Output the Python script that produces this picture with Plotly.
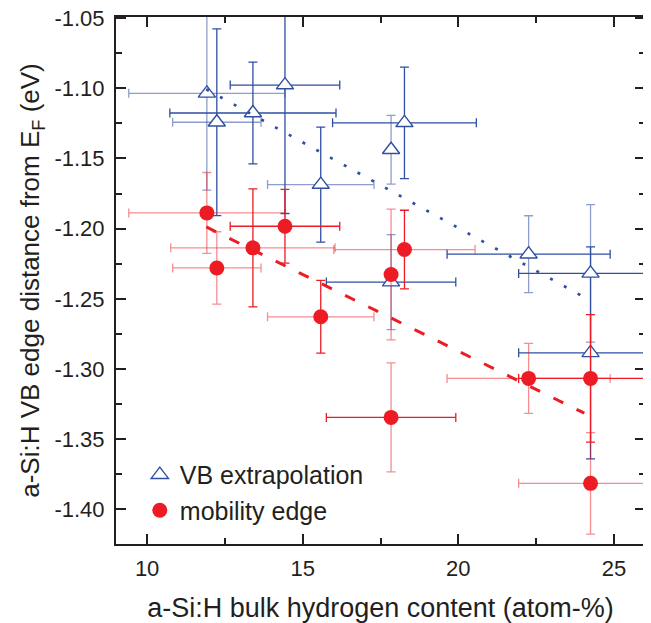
import plotly.graph_objects as go

# ---------------- data ----------------
vb_x = [11.92, 12.24, 13.40, 14.43, 15.58, 17.84, 18.27, 22.26, 24.25, 24.25, 17.84]
vb_y = [-1.1036, -1.1242, -1.1176, -1.0977, -1.1686, -1.1438, -1.1246, -1.2182, -1.2319, -1.2885, -1.2381]
vb_xerr = [2.51, 1.42, 2.67, 1.76, 1.71, 0.0, 2.31, 2.62, 2.31, 2.31, 2.08]
vb_yerr = [0.069, 0.0665, 0.0362, 0.0915, 0.041, 0.0245, 0.0397, 0.0274, 0.049, 0.0755, 0.0338]

me_x = [11.92, 12.24, 13.40, 14.43, 15.58, 17.84, 18.27, 17.84, 22.26, 24.25, 24.25]
me_y = [-1.1888, -1.228, -1.2137, -1.1983, -1.2628, -1.2327, -1.2149, -1.3345, -1.3067, -1.3067, -1.3815]
me_xerr = [2.51, 1.42, 2.64, 1.76, 1.71, 0.0, 2.27, 2.08, 2.62, 2.31, 2.31]
me_yerr = [0.0288, 0.0258, 0.0421, 0.0263, 0.0259, 0.0466, 0.028, 0.0388, 0.0249, 0.0454, 0.0362]

fit_x = [11.9, 24.05]
vb_fit_y = [-1.1007, -1.2489]
me_fit_y = [-1.1988, -1.3315]

x_tick_vals = [10, 15, 20, 25]
x_tick_labels = ["10", "15", "20", "25"]
y_tick_vals = [-1.40, -1.35, -1.30, -1.25, -1.20, -1.15, -1.10, -1.05]
y_tick_labels = ["-1.40", "-1.35", "-1.30", "-1.25", "-1.20", "-1.15", "-1.10", "-1.05"]

# ---------------- styles ----------------
vb_xbar_light = [1, 1, 0, 0, 1, 0, 0, 0, 0, 0, 0]
vb_ybar_light = [1, 0, 0, 0, 0, 1, 0, 1, 1, 0, 1]
me_xbar_light = [1, 1, 1, 0, 1, 0, 1, 0, 1, 0, 1]
me_ybar_light = [1, 1, 0, 0, 0, 1, 0, 1, 1, 0, 1]

BLUE = "#2F4FA2"
BLUE_L = "rgba(47,79,162,0.55)"
RED = "#ED1C24"
RED_L = "rgba(237,28,36,0.5)"
INK = "#231F20"
FONT = "Liberation Sans, Arial, sans-serif"

fig = go.Figure()


def add_bars(xs, ys, xe, ye, xl, yl, dark, light):
    for i in range(len(xs)):
        ex = dict(type="data", array=[xe[i]], color=light if xl[i] else dark,
                  thickness=1.3, width=4.5, visible=xe[i] > 0)
        ey = dict(type="data", array=[ye[i]], color=light if yl[i] else dark,
                  thickness=1.3, width=4.5, visible=ye[i] > 0)
        fig.add_trace(go.Scatter(x=[xs[i]], y=[ys[i]], mode="markers",
                                 marker=dict(size=1, opacity=0),
                                 error_x=ex, error_y=ey,
                                 showlegend=False, hoverinfo="skip"))


add_bars(vb_x, vb_y, vb_xerr, vb_yerr, vb_xbar_light, vb_ybar_light, BLUE, BLUE_L)
fig.add_trace(go.Scatter(x=vb_x, y=vb_y, mode="markers", name="VB extrapolation",
                         marker=dict(symbol="triangle-up", size=15, color="white",
                                     line=dict(color=BLUE, width=1.4))))

add_bars(me_x, me_y, me_xerr, me_yerr, me_xbar_light, me_ybar_light, RED, RED_L)
fig.add_trace(go.Scatter(x=me_x, y=me_y, mode="markers", name="mobility edge",
                         marker=dict(symbol="circle", size=15, color=RED,
                                     line=dict(width=0))))

fig.add_trace(go.Scatter(x=fit_x, y=vb_fit_y, mode="lines", showlegend=False,
                         line=dict(color=BLUE, width=2.7, dash="3px,12.7px")))
fig.add_trace(go.Scatter(x=fit_x, y=me_fit_y, mode="lines", showlegend=False,
                         line=dict(color=RED, width=3, dash="11px,14.8px")))

axis_common = dict(showline=True, linecolor=INK, linewidth=2, mirror="allticks",
                   ticks="inside", ticklen=10, tickwidth=2, tickcolor=INK,
                   showgrid=False, zeroline=False, automargin=False,
                   ticklabeloverflow="allow",
                   tickfont=dict(family=FONT, size=22, color=INK))

fig.update_xaxes(range=[9, 26], tickvals=x_tick_vals, ticktext=x_tick_labels,
                 ticklabelstandoff=4,
                 minor=dict(ticks="inside", ticklen=6, tickwidth=1.6, tickcolor=INK,
                            tickvals=[12.5, 17.5, 22.5]),
                 title=dict(text="a-Si:H bulk hydrogen content (atom-%)",
                            font=dict(family=FONT, size=27, color=INK), standoff=18),
                 **axis_common)
fig.update_yaxes(range=[-1.4247, -1.0492], tickvals=y_tick_vals, ticktext=y_tick_labels,
                 ticklabelstandoff=5,
                 minor=dict(ticks="inside", ticklen=6, tickwidth=1.6, tickcolor=INK,
                            tickvals=[-1.425, -1.375, -1.325, -1.275, -1.225, -1.175, -1.125, -1.075]),
                 title=dict(text="a-Si:H VB edge distance from E<sub>F</sub> (eV)",
                            font=dict(family=FONT, size=26, color=INK), standoff=7),
                 **axis_common)

fig.update_layout(width=643, height=615,
                  margin=dict(l=108, r=6, t=9, b=79),
                  plot_bgcolor="white", paper_bgcolor="white",
                  font=dict(family=FONT, color=INK),
                  legend=dict(x=0.045, y=0.021, xanchor="left", yanchor="bottom",
                              bgcolor="rgba(0,0,0,0)", font=dict(family=FONT, size=25, color=INK),
                              tracegroupgap=0))

fig.write_html("out.html")
